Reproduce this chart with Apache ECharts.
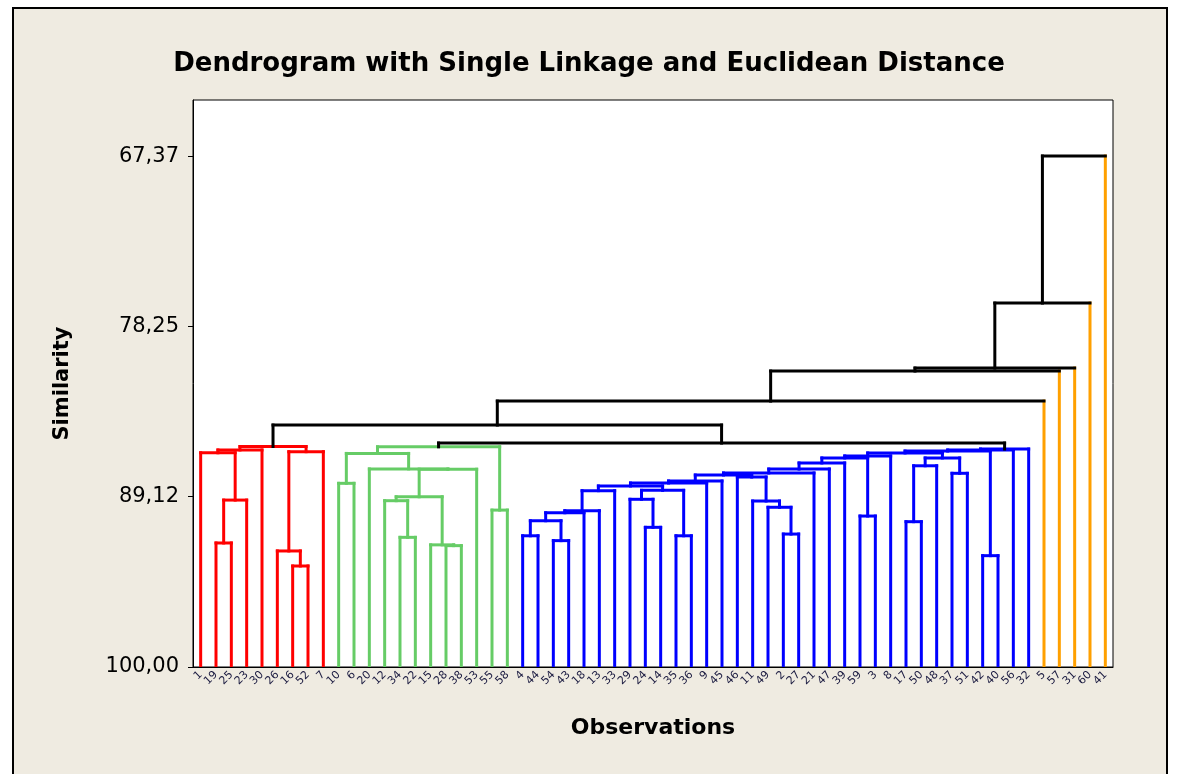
<!DOCTYPE html>
<html>
<head>
<meta charset="utf-8">
<script src="https://cdn.jsdelivr.net/npm/echarts@6/dist/echarts.min.js"></script>
<style>
  html, body { margin: 0; padding: 0; background: #ffffff; }
  #chart { width: 1178px; height: 774px; }
</style>
</head>
<body>
<div id="chart"></div>
<script>
// Observation numbers, in dendrogram leaf order (left to right)
const leafLabels = [
  1, 19, 25, 23, 30, 26, 16, 52, 7,
  10, 6, 20, 12, 34, 22, 15, 28, 38, 53, 55, 58,
  4, 44, 54, 43, 18, 13, 33, 29, 24, 14, 35, 36, 9, 45, 46, 11, 49, 2, 27, 21,
  47, 39, 59, 3, 8, 17, 50, 48, 37, 51, 42, 40, 56, 32,
  5, 57, 31, 60, 41
];

// Final partition: cluster sizes in leaf order and their colours
const clusterSizes = [9, 12, 34, 1, 1, 1, 1, 1];
const clusterColors = ['#ff0000', '#66cc66', '#0000ff', '#ffa000', '#ffa000', '#ffa000', '#ffa000', '#ffa000'];

// Linkage steps: [node A, node B, similarity level].
// Nodes 0..59 are leaf positions, node 60+i is the cluster formed at step i.
const merges = [
  // red cluster
  [1, 2, 92.08], [60, 3, 89.34], [0, 61, 86.32], [62, 4, 86.14],
  [6, 7, 93.55], [5, 64, 92.59], [65, 8, 86.25], [63, 66, 85.92],
  // green cluster
  [9, 10, 88.27], [13, 14, 91.72], [16, 17, 92.25], [15, 70, 92.20],
  [12, 69, 89.38], [72, 71, 89.13], [73, 18, 87.37], [11, 74, 87.35],
  [68, 75, 86.36], [19, 20, 89.98], [76, 77, 85.94],
  // blue cluster
  [21, 22, 91.62], [23, 24, 91.93], [79, 80, 90.66], [81, 25, 90.15],
  [82, 26, 90.02], [83, 27, 88.74], [29, 30, 91.08], [28, 85, 89.29],
  [31, 32, 91.62], [86, 87, 88.72], [84, 88, 88.44], [89, 33, 88.25],
  [90, 34, 88.12], [38, 39, 91.51], [37, 92, 89.80], [36, 93, 89.40],
  [35, 94, 87.87], [91, 95, 87.74], [96, 40, 87.61], [97, 41, 87.36],
  [98, 42, 86.97], [43, 44, 90.36], [99, 100, 86.65], [101, 45, 86.52],
  [46, 47, 90.72], [103, 48, 87.15], [49, 50, 87.63], [104, 105, 86.65],
  [102, 106, 86.33], [51, 52, 92.89], [107, 108, 86.21], [109, 53, 86.14],
  [110, 54, 86.08],
  // links between clusters
  [78, 111, 85.70], [67, 112, 84.55], [113, 55, 83.02], [114, 56, 81.10],
  [115, 57, 80.91], [116, 58, 76.76], [117, 59, 67.37]
];

// Similarity axis ticks
const simTicks = [67.37, 78.25, 89.12, 100.00];
const simTop = 63.79;

// ---- derived node geometry ----
const nLeaves = leafLabels.length;
const nodeX = [], nodeY = [], nodeCluster = [];
let pos = 0;
clusterSizes.forEach((size, c) => {
  for (let i = 0; i < size; i++) {
    nodeX.push(pos); nodeY.push(100); nodeCluster.push(c); pos++;
  }
});
merges.forEach(([a, b, level]) => {
  nodeX.push((nodeX[a] + nodeX[b]) / 2);
  nodeY.push(level);
  nodeCluster.push(nodeCluster[a] === nodeCluster[b] ? nodeCluster[a] : -1);
});
const colorOf = c => (c < 0 ? '#000000' : clusterColors[c]);

const chart = echarts.init(document.getElementById('chart'));
const LW = 3;
const FONT = "'DejaVu Sans', sans-serif";

chart.setOption({
  animation: false,
  backgroundColor: '#ffffff',
  graphic: [{
    type: 'rect', z: -10,
    shape: { x: 13, y: 8, width: 1154, height: 780 },
    style: { fill: '#efebe1', stroke: '#000000', lineWidth: 2 }
  }],
  title: {
    text: 'Dendrogram with Single Linkage and Euclidean Distance',
    left: 'center', top: 46,
    textStyle: { fontFamily: FONT, fontWeight: 'bold', fontSize: 26, color: '#000' }
  },
  grid: {
    left: 193, right: 65, top: 100, bottom: 107,
    show: true, backgroundColor: '#ffffff', borderColor: '#000000', borderWidth: 1
  },
  xAxis: [{
    type: 'category',
    data: leafLabels.map(String),
    name: 'Observations', nameLocation: 'middle', nameGap: 50,
    nameTextStyle: { fontFamily: FONT, fontWeight: 'bold', fontSize: 22, color: '#000' },
    axisLine: { onZero: false, lineStyle: { color: '#000', width: 1 } },
    axisTick: { alignWithLabel: true, length: 6, lineStyle: { color: '#000' } },
    axisLabel: { interval: 0, rotate: 45, fontSize: 11, margin: 6, color: '#1a1a40', fontFamily: FONT },
    splitLine: { show: false }
  }, {
    type: 'value', min: -0.5, max: nLeaves - 0.5, show: false
  }],
  yAxis: {
    type: 'value', inverse: true, min: simTop, max: 100,
    name: 'Similarity', nameLocation: 'middle', nameGap: 120, nameRotate: 90,
    nameTextStyle: { fontFamily: FONT, fontWeight: 'bold', fontSize: 21, color: '#000' },
    axisLine: { show: true, onZero: false, lineStyle: { color: '#000', width: 1 } },
    axisTick: { show: true, length: 5, customValues: simTicks, lineStyle: { color: '#000' } },
    axisLabel: {
      customValues: simTicks, margin: 14, fontSize: 21, color: '#000',
      fontFamily: FONT,
      formatter: v => v.toFixed(2).replace('.', ',')
    },
    splitLine: { show: false }
  },
  series: [{
    type: 'custom',
    xAxisIndex: 1, yAxisIndex: 0,
    clip: true,
    data: merges.map((m, i) => [i]),
    renderItem: (params, api) => {
      const i = api.value(0);
      const [a, b] = merges[i];
      const id = nLeaves + i;
      const h = nodeY[id];
      const parentColor = colorOf(nodeCluster[id]);
      const legColor = n => (n < nLeaves ? colorOf(nodeCluster[n]) : parentColor);
      const pA0 = api.coord([nodeX[a], nodeY[a]]);
      const pA1 = api.coord([nodeX[a], h]);
      const pB0 = api.coord([nodeX[b], nodeY[b]]);
      const pB1 = api.coord([nodeX[b], h]);
      const seg = (p, q, color) => ({
        type: 'polyline',
        shape: { points: [p, q] },
        style: { stroke: color, lineWidth: LW, fill: null, lineCap: 'square' }
      });
      return {
        type: 'group',
        children: [
          seg(pA0, pA1, legColor(a)),
          seg(pB0, pB1, legColor(b)),
          seg(pA1, pB1, parentColor)
        ]
      };
    }
  }]
});
</script>
</body>
</html>
